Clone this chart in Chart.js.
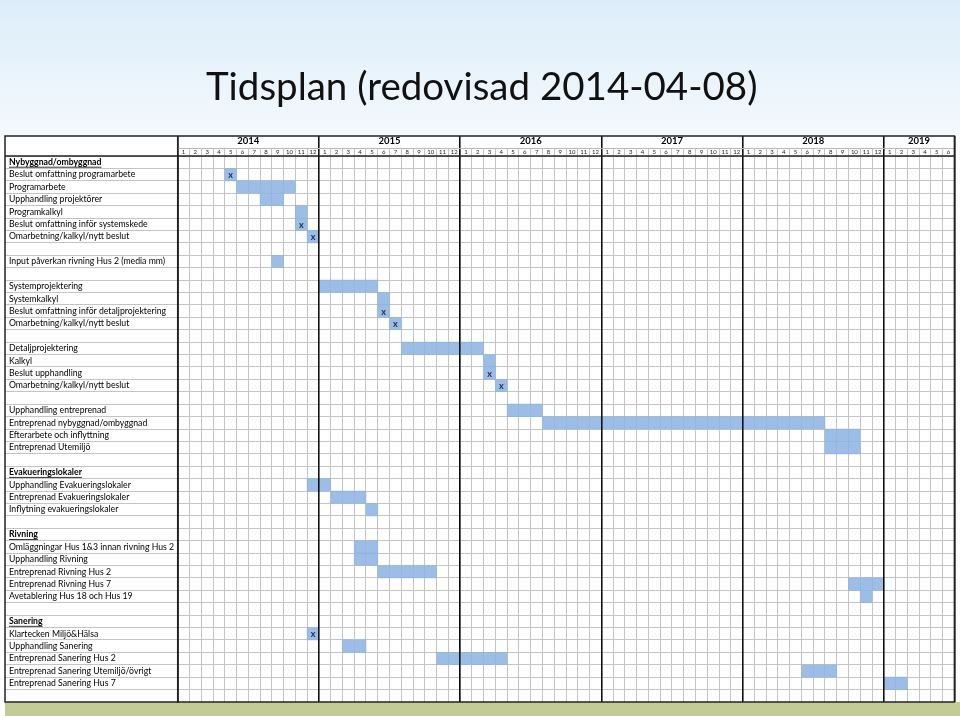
<!DOCTYPE html>
<html><head><meta charset="utf-8">
<script src="https://cdn.jsdelivr.net/npm/chart.js@4.4.1/dist/chart.umd.min.js"></script>
<style>html,body{margin:0;padding:0;background:#fff}#wrap{width:960px;height:716px;position:relative}</style>
</head><body><div id="wrap"><canvas id="c" width="960" height="716"></canvas></div>
<script>
const titleText = 'Tidsplan (redovisad 2014-04-08)';
const yearLabels = ['2014','2015','2016','2017','2018','2019'];
const monthsPerYear = [12,12,12,12,12,6];
const monthLabels = [
 '1','2','3','4','5','6','7','8','9','10','11','12',
 '1','2','3','4','5','6','7','8','9','10','11','12',
 '1','2','3','4','5','6','7','8','9','10','11','12',
 '1','2','3','4','5','6','7','8','9','10','11','12',
 '1','2','3','4','5','6','7','8','9','10','11','12',
 '1','2','3','4','5','6'];
const rowLabels = [
 'Nybyggnad/ombyggnad',
 'Beslut omfattning programarbete',
 'Programarbete',
 'Upphandling projektörer',
 'Programkalkyl',
 'Beslut omfattning inför systemskede',
 'Omarbetning/kalkyl/nytt beslut',
 '',
 'Input påverkan rivning Hus 2 (media mm)',
 '',
 'Systemprojektering',
 'Systemkalkyl',
 'Beslut omfattning inför detaljprojektering',
 'Omarbetning/kalkyl/nytt beslut',
 '',
 'Detaljprojektering',
 'Kalkyl',
 'Beslut upphandling',
 'Omarbetning/kalkyl/nytt beslut',
 '',
 'Upphandling entreprenad',
 'Entreprenad nybyggnad/ombyggnad',
 'Efterarbete och inflyttning',
 'Entreprenad Utemiljö',
 '',
 'Evakueringslokaler',
 'Upphandling Evakueringslokaler',
 'Entreprenad Evakueringslokaler',
 'Inflytning evakueringslokaler',
 '',
 'Rivning',
 'Omläggningar Hus 1&3 innan rivning Hus 2',
 'Upphandling Rivning',
 'Entreprenad Rivning Hus 2',
 'Entreprenad Rivning Hus 7',
 'Avetablering Hus 18 och Hus 19',
 '',
 'Sanering',
 'Klartecken Miljö&Hälsa',
 'Upphandling Sanering',
 'Entreprenad Sanering Hus 2',
 'Entreprenad Sanering Utemiljö/övrigt',
 'Entreprenad Sanering Hus 7',
 ''];
// month index since Jan 2014 (start inclusive, end exclusive)
const barStart = [null,4,5,7,10,10,11,null,8,null,12,17,17,18,null,19,26,26,27,null,28,31,55,55,null,null,11,13,16,null,null,15,15,17,57,58,null,null,11,14,22,53,60,null];
const barEnd   = [null,5,10,9,11,11,12,null,9,null,17,18,18,19,null,26,27,27,28,null,31,55,58,58,null,null,13,16,17,null,null,17,17,22,60,59,null,null,12,16,28,56,62,null];
const markerText = ['','x','','','','x','x','','','','','','x','x','','','','x','x','','','','','','','','','','','','','','','','','','','','x','','','','',''];
const sectionRows = [0,25,30,37];

const ROW_FONT = "Lato, 'Open Sans', sans-serif";
const ROW_SIZE = 8.7;
const totalMonths = monthLabels.length;
const yearStarts = []; let acc = 0;
monthsPerYear.forEach(m => { yearStarts.push(acc); acc += m; });
const yearBounds = yearStarts.concat([acc]);
const yearCenters = yearStarts.map((s, i) => s + monthsPerYear[i] / 2);
const barData = rowLabels.map((_, i) => barStart[i] === null ? null : [barStart[i], barEnd[i]]);

function line(ctx, x1, y1, x2, y2) { ctx.beginPath(); ctx.moveTo(x1, y1); ctx.lineTo(x2, y2); ctx.stroke(); }

const bgPlugin = {
  id: 'bg',
  beforeDraw(chart) {
    const { ctx, width, height, chartArea } = chart;
    const yS = chart.scales.y, xy = chart.scales.xy;
    const fl = yS.right - yS.options.grid.tickLength;
    ctx.save();
    const g = ctx.createLinearGradient(0, 0, 0, xy.top);
    g.addColorStop(0, '#dcedf9'); g.addColorStop(1, '#f4f9fd');
    ctx.fillStyle = g; ctx.fillRect(0, 0, width, xy.top);
    ctx.fillStyle = '#ffffff'; ctx.fillRect(0, xy.top, width, height - xy.top);
    ctx.fillStyle = '#c3cc96'; ctx.fillRect(fl, chartArea.bottom, width - fl, height - chartArea.bottom);
    ctx.restore();
  }
};
const markerPlugin = {
  id: 'markers',
  afterDatasetsDraw(chart) {
    const { ctx } = chart;
    const meta = chart.getDatasetMeta(0);
    ctx.save();
    ctx.font = 'bold 9px ' + ROW_FONT;
    ctx.fillStyle = '#1f2d4f'; ctx.textAlign = 'center'; ctx.textBaseline = 'middle';
    markerText.forEach((t, i) => {
      if (!t) return;
      const el = meta.data[i]; if (!el) return;
      const p = el.getProps(['x', 'y', 'base'], true);
      ctx.fillText(t, (p.x + p.base) / 2, p.y + 0.5);
    });
    ctx.restore();
  }
};
const framePlugin = {
  id: 'frame',
  afterDraw(chart) {
    const { ctx, chartArea: ca } = chart;
    const yS = chart.scales.y, xy = chart.scales.xy, xm = chart.scales.xm;
    const fl = yS.right - yS.options.grid.tickLength;
    ctx.save();
    ctx.strokeStyle = '#b8b8b8'; ctx.lineWidth = 1;
    line(ctx, ca.left, Math.round(xm.top) + 0.5, ca.right, Math.round(xm.top) + 0.5);
    ctx.strokeStyle = '#222'; ctx.lineWidth = 1.5;
    ctx.strokeRect(fl, xy.top, ca.right - fl, ca.bottom - xy.top);
    line(ctx, fl, ca.top, ca.right, ca.top);
    line(ctx, ca.left, xy.top, ca.left, ca.bottom);
    ctx.font = 'bold ' + ROW_SIZE + 'px ' + ROW_FONT;
    ctx.strokeStyle = '#000'; ctx.lineWidth = 0.8;
    sectionRows.forEach(i => {
      const y = yS.getPixelForValue(i) + 5;
      const w = ctx.measureText(rowLabels[i]).width;
      line(ctx, yS.left, y, yS.left + w, y);
    });
    ctx.restore();
  }
};

new Chart(document.getElementById('c'), {
  type: 'bar',
  data: {
    labels: rowLabels,
    datasets: [{
      data: barData,
      backgroundColor: 'rgba(141,180,226,0.88)',
      borderWidth: 0,
      barPercentage: 1,
      categoryPercentage: 1,
      grouped: false,
      xAxisID: 'x', yAxisID: 'y'
    }]
  },
  options: {
    indexAxis: 'y',
    responsive: false,
    animation: false,
    devicePixelRatio: 1,
    layout: { padding: { left: 9, right: 5.6, top: 0, bottom: 14 } },
    plugins: {
      legend: { display: false },
      tooltip: { enabled: false },
      title: {
        display: true, text: titleText, color: '#111111',
        font: { family: ROW_FONT, size: 38.5, weight: 'normal', lineHeight: 1.2 },
        padding: { top: 64, bottom: 25.8 }
      }
    },
    scales: {
      x: { type: 'linear', display: false, min: 0, max: totalMonths },
      xb: {
        type: 'linear', position: 'top', min: 0, max: totalMonths, weight: -1,
        afterBuildTicks: s => { s.ticks = yearBounds.map(v => ({ value: v })); },
        afterFit: s => { s.height = 0; },
        ticks: { display: false },
        grid: { color: '#111111', lineWidth: 1.6, drawTicks: true, tickLength: 20, z: 1 },
        border: { display: false }
      },
      xm: {
        type: 'category', labels: monthLabels, position: 'top', offset: true, weight: 0,
        afterFit: s => { s.height = 8; },
        grid: { offset: true, color: '#c4c4c4', lineWidth: 1, drawTicks: true, tickLength: 8 },
        border: { display: false },
        ticks: { autoSkip: false, maxRotation: 0, minRotation: 0, padding: -7, color: '#222',
          font: { family: ROW_FONT, size: 6, lineHeight: 1 } }
      },
      xy: {
        type: 'linear', position: 'top', min: 0, max: totalMonths, weight: 1,
        afterBuildTicks: s => { s.ticks = yearCenters.map(v => ({ value: v })); },
        afterFit: s => { s.height = 12; },
        grid: { display: false, drawTicks: false },
        border: { display: false },
        ticks: { autoSkip: false, maxRotation: 0, padding: 2, color: '#000',
          font: { family: ROW_FONT, size: 9.5, weight: 'bold', lineHeight: 1 },
          callback: (v, i) => yearLabels[i] }
      },
      y: {
        type: 'category', position: 'left', offset: true,
        grid: { offset: true, color: '#c4c4c4', lineWidth: 1, drawTicks: true, tickLength: 172.7 },
        border: { display: true, color: '#1a1a1a', width: 1.5 },
        ticks: { crossAlign: 'far', autoSkip: false, padding: 0, color: '#000',
          font: ctx => ({ family: ROW_FONT, size: ROW_SIZE, weight: sectionRows.includes(ctx.index) ? 'bold' : 'normal' }) },
        afterFit: s => { s.width = 168.7; }
      }
    }
  },
  plugins: [bgPlugin, markerPlugin, framePlugin]
});
</script></body></html>
